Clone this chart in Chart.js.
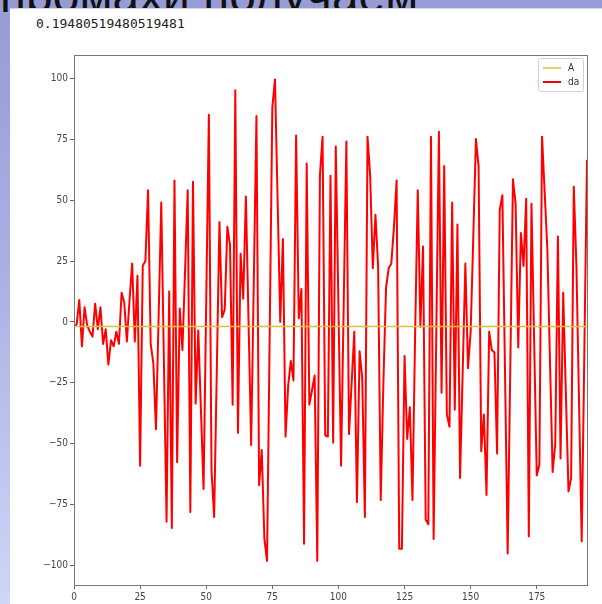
<!DOCTYPE html>
<html>
<head>
<meta charset="utf-8">
<script src="https://cdn.jsdelivr.net/npm/chart.js@4.4.1/dist/chart.umd.min.js"></script>
<style>
    html, body { margin: 0; padding: 0; }
    body {
        width: 602px; height: 604px; overflow: hidden; position: relative;
        background: linear-gradient(to bottom, #979bd4 0%, #a9b1e3 45%, #cdd6f6 100%);
    }
    /* slide title, mostly hidden behind the pasted screenshot */
    .slide-title {
        position: absolute; left: 0; top: -28px;
        font: 48px/48px "Liberation Sans", Arial, sans-serif;
        color: #111; white-space: nowrap;
    }
    .shot {
        position: absolute; left: 10px; top: 8px; right: 0; bottom: 0;
        background: #fff; border-top: 1px solid #d6d6e2;
    }
    .out {
        position: absolute; left: 36px; top: 17px;
        font: 13px/14px "DejaVu Sans Mono", monospace; color: #222;
    }
    #chart { position: absolute; left: 0; top: 0; }
</style>
</head>
<body>
<div class="slide-title">промахи получаем</div>
<div class="shot"></div>
<div class="out">0.19480519480519481</div>
<canvas id="chart" width="602" height="604"></canvas>

<script>
// values
const xTicks = [0, 25, 50, 75, 100, 125, 150, 175];
const yTicks = [-100, -75, -50, -25, 0, 25, 50, 75, 100];
const seriesLabels = ['A', 'da'];
const aLevel = -1.9;
const daValues = [
    -2, -1, 9, -10, 6, -1.5, -4, -6, 7.5, -3,
    6, -9, -3, -17.5, -7.5, -10, -4, -9, 12, 8,
    -8, 9, 24, -8, 19, -59, 23, 25, 54, -9,
    -17, -44, 2, 49, -16, -82, 12.5, -84.5, 58, -57.5,
    5.5, -11.5, 21, 54, -78, 57.5, -33.5, -3.5, -36, -68.5,
    8, 85, -61, -80, -20, 41, 2, 5, 39, 31.5,
    -34, 95, -45.5, 28, 9.5, 51.5, 0.5, -50.5, 17, 84.5,
    -67, -52.5, -89, -98, -5, 88, 99.5, 50, 0, 34,
    -47, -26, -16, -24, 76.5, 1.5, 13.5, -91, 65, -34,
    -28, -22, -98, 60, 76, -46.5, -47, 60, -49.5, 72,
    6.5, -59, 7.5, 74, -46, -25, -4, -74, -12, -23,
    -80, 76, 60, 22, 44, 23, -73, -25, 14, 22,
    24, 39, 58, -93, -93, -14, -48, -35, -73, -5,
    54, -2, 31, -81, -83, 76, -89, -5, 78, -29,
    64, -38, -43, 49, -36, 40, -64, -20, 24, -19,
    -4, 35, 75, 64, -53, -38, -71, -4, -11.5, -12.5,
    -54, 46, 52, -21, -95, -18, 58.5, 48.5, -10.5, 36.5,
    23, 50.5, -88, 48.5, -7, -63, -58.5, 76, 53, 30,
    -16, -61.5, -50, 35, -56, 12, -29, -69.5, -64, 55.5,
    23, -33.5, -90, -12, 66.5
];
const yMin = -107.9;
const yMax = 109.5;

const tickFont = { family: '"Liberation Sans Narrow", "DejaVu Sans Condensed", "DejaVu Sans", sans-serif', size: 10 };
const minus = v => String(v).replace('-', '\u2212');

// matplotlib style frame around the plot area
const framePlugin = {
    id: 'frame',
    afterDatasetsDraw(chart) {
        const { ctx, chartArea: a } = chart;
        ctx.save();
        ctx.strokeStyle = '#777';
        ctx.lineWidth = 1;
        ctx.strokeRect(a.left + 0.5, a.top + 0.5, a.right - a.left, a.bottom - a.top);
        ctx.restore();
    }
};

// legend box in the upper right corner, inside the axes
const cornerLegend = {
    id: 'cornerLegend',
    afterDraw(chart) {
        const { ctx, chartArea: a } = chart;
        const sets = chart.data.datasets;
        const w = 45, rowH = 14;
        const h = sets.length * rowH + 5;
        const x = a.right - w - 4, y = a.top + 3;
        ctx.save();
        ctx.fillStyle = 'rgba(255,255,255,0.85)';
        ctx.strokeStyle = '#d0d0d0';
        ctx.lineWidth = 1;
        ctx.beginPath();
        ctx.roundRect(x + 0.5, y + 0.5, w, h, 2);
        ctx.fill();
        ctx.stroke();
        ctx.font = '10px ' + tickFont.family;
        ctx.textBaseline = 'middle';
        sets.forEach((ds, i) => {
            const cy = y + 10 + i * rowH;
            ctx.strokeStyle = ds.borderColor;
            ctx.lineWidth = ds.borderWidth;
            ctx.beginPath();
            ctx.moveTo(x + 5, cy);
            ctx.lineTo(x + 23, cy);
            ctx.stroke();
            ctx.fillStyle = '#333';
            ctx.fillText(ds.label, x + 30, cy);
        });
        ctx.restore();
    }
};

const lastIndex = daValues.length - 1;

new Chart(document.getElementById('chart'), {
    type: 'line',
    data: {
        datasets: [
            {
                label: seriesLabels[0],
                data: daValues.map((_, i) => ({ x: i, y: aLevel })),
                borderColor: '#d9c23a',
                borderWidth: 1.5,
                pointRadius: 0,
                tension: 0
            },
            {
                label: seriesLabels[1],
                data: daValues.map((v, i) => ({ x: i, y: v })),
                borderColor: '#ff0000',
                borderWidth: 2,
                borderJoinStyle: 'round',
                pointRadius: 0,
                tension: 0
            }
        ]
    },
    options: {
        responsive: false,
        animation: false,
        layout: { padding: { left: 30, top: 55, right: 15, bottom: 0 } },
        plugins: { legend: { display: false }, tooltip: { enabled: false } },
        scales: {
            x: {
                type: 'linear',
                min: 0,
                max: lastIndex,
                afterBuildTicks: s => { s.ticks = xTicks.map(v => ({ value: v })); },
                afterFit: s => { s.height = 19; },
                border: { display: false },
                grid: { drawOnChartArea: false, drawTicks: true, tickLength: 4, color: '#666' },
                ticks: { color: '#444', font: tickFont, padding: 2, maxRotation: 0, callback: minus }
            },
            y: {
                min: yMin,
                max: yMax,
                afterBuildTicks: s => { s.ticks = yTicks.map(v => ({ value: v })); },
                afterFit: s => { s.width = 44; },
                border: { display: false },
                grid: { drawOnChartArea: false, drawTicks: true, tickLength: 4, color: '#666' },
                ticks: { color: '#444', font: tickFont, padding: 2, callback: minus }
            }
        }
    },
    plugins: [framePlugin, cornerLegend]
});
</script>
</body>
</html>
